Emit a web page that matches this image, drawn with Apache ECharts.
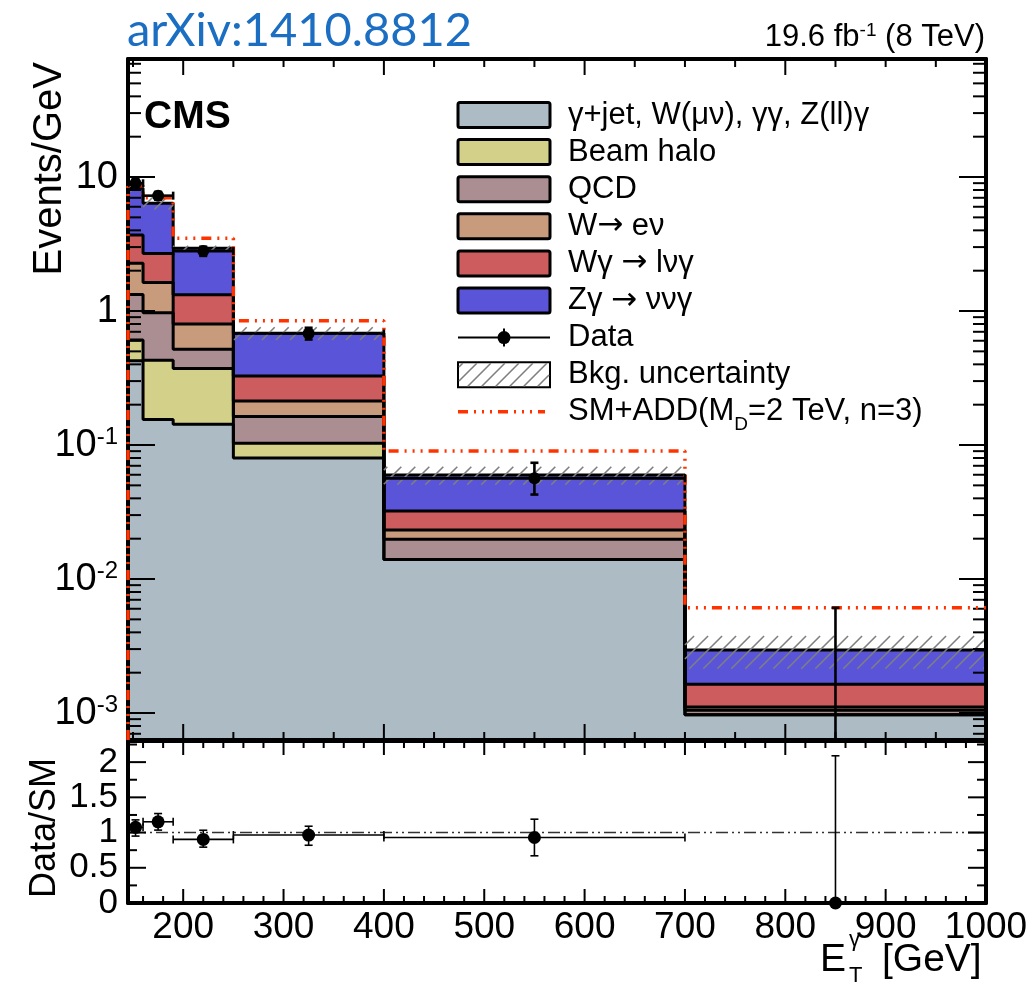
<!DOCTYPE html>
<html><head><meta charset="utf-8">
<script src="https://cdn.jsdelivr.net/npm/echarts@6/dist/echarts.min.js"></script>
<style>html,body{margin:0;padding:0;background:#fff}#c{width:1031px;height:987px}</style>
</head><body><div id="c"></div>
<script>
// ---------------- data ----------------
const binEdges = [145, 160, 190, 250, 400, 700, 1000];           // E_T^gamma bin edges [GeV]
const gammaJetEtc = [0.426, 0.155, 0.143, 0.080, 0.0140, 0.00097]; // Events/GeV per bin
const beamHalo    = [0.182, 0.275, 0.230, 0.023, 0.0, 0.0];
const qcd         = [0.722, 0.540, 0.145, 0.060, 0.0058, 0.00008];
const wToEnu      = [0.940, 0.660, 0.282, 0.050, 0.0034, 0.00006];
const wGamma      = [1.420, 1.060, 0.520, 0.114, 0.0090, 0.00053];
const zGamma      = [4.550, 3.670, 1.620, 0.355, 0.0275, 0.00131];
const bkgUnc      = [0.45, 0.64, 0.13, 0.074, 0.0092, 0.00081];
const smPlusAdd   = [8.6, 7.0, 3.49, 0.847, 0.0902, 0.00611];
const dataX       = [152.5, 175, 220, 325, 550, 850];
const dataY       = [8.98, 7.26, 2.80, 0.68, 0.0564, 0];
const dataErrLo   = [0.77, 0.49, 0.22, 0.067, 0.0137, 0];
const dataErrHi   = [0.77, 0.49, 0.22, 0.070, 0.0173, 0.0061];
const ratioVal    = [1.074, 1.153, 0.903, 0.965, 0.93, 0];
const ratioErrLo  = [0.124, 0.118, 0.11, 0.145, 0.26, 0];
const ratioErrHi  = [0.106, 0.117, 0.13, 0.125, 0.26, 2.09];
const legendLabels = ['γ+jet, W(μν), γγ, Z(ll)γ', 'Beam halo', 'QCD', 'W{a|→} eν', 'Wγ {a|→} lνγ', 'Zγ {a|→} ννγ', 'Data', 'Bkg. uncertainty', 'SM+ADD(M{sub|D}=2 TeV, n=3)'];
const xMajorTicksMain = [200, 400, 600, 800, 1000];
const xMinorTicksMain = [150, 250, 300, 350, 450, 500, 550, 650, 700, 750, 850, 900, 950];
const xMajorTicksRatio = [200, 300, 400, 500, 600, 700, 800, 900, 1000];
const xMinorTicksRatio = [160, 180, 220, 240, 260, 280, 320, 340, 360, 380, 420, 440, 460, 480, 520, 540, 560, 580, 620, 640, 660, 680, 720, 740, 760, 780, 820, 840, 860, 880, 920, 940, 960, 980];
const yMajorTicksMain = [0.001, 0.01, 0.1, 1, 10];
const yMinorTicksMain = [7e-4, 8e-4, 9e-4, 2e-3, 3e-3, 4e-3, 5e-3, 6e-3, 7e-3, 8e-3, 9e-3, 0.02, 0.03, 0.04, 0.05, 0.06, 0.07, 0.08, 0.09, 0.2, 0.3, 0.4, 0.5, 0.6, 0.7, 0.8, 0.9, 2, 3, 4, 5, 6, 7, 8, 9, 20, 30, 40, 50, 60, 70];
const yMajorTicksRatio = [0, 0.5, 1, 1.5, 2];
const yMinorTicksRatio = [0.25, 0.75, 1.25, 1.75, 2.25];

// ---------------- configuration ----------------
const FONT = '"Liberation Sans", Arial, Helvetica, sans-serif';
const X_MIN = 145, X_MAX = 1000;
const Y_MIN = 6.29e-4, Y_MAX = 76;
const R_MIN = 0, R_MAX = 2.3;
const colors = ['#adbbc5', '#d3d08a', '#aa8e92', '#c89b7c', '#cd5c5f', '#5954d8'];
const ADD_COLOR = '#ff3300';
const ADD_DASH = [10, 6, 2, 6, 2, 6, 2, 6];

const layers = [gammaJetEtc, beamHalo, qcd, wToEnu, wGamma, zGamma];
const cum = [];
let run = gammaJetEtc.map(() => 0);
layers.forEach(vals => {
  const lo = run.slice();
  run = run.map((v, i) => v + vals[i]);
  cum.push({ lo: lo, hi: run.slice() });
});
const totalSM = run.slice();

function hatchLines(x0, y0, x1, y1, spacing, style) {
  const out = [];
  const cStart = Math.ceil((x0 + y0) / spacing) * spacing;
  for (let c = cStart; c <= x1 + y1; c += spacing) {
    const xa = Math.max(x0, c - y1), xb = Math.min(x1, c - y0);
    if (xb > xa) out.push({ type: 'line', shape: { x1: xa, y1: c - xa, x2: xb, y2: c - xb }, style: style });
  }
  return out;
}

const series = [];

// stacked fills
layers.forEach((vals, k) => {
  series.push({
    type: 'custom', xAxisIndex: 0, yAxisIndex: 0, z: 1, clip: true, silent: true,
    encode: { x: 0, y: 3 },
    data: vals.map((v, i) => [binEdges[i], binEdges[i + 1], cum[k].lo[i], cum[k].hi[i]]),
    renderItem: (params, api) => {
      const cs = params.coordSys;
      const x0 = api.value(0), x1 = api.value(1), lo = api.value(2), hi = api.value(3);
      if (!(hi > lo)) return { type: 'group', children: [] };
      const pA = api.coord([x0, hi]);
      const pB = api.coord([x1, hi]);
      const yBot = lo > 0 ? api.coord([x0, lo])[1] : cs.y + cs.height;
      return { type: 'rect', shape: { x: pA[0] - 0.6, y: pA[1], width: pB[0] - pA[0] + 1.2, height: yBot - pA[1] + 0.6 }, style: { fill: colors[k] } };
    }
  });
});
// stacked outlines (step lines)
layers.forEach((vals, k) => {
  const d = cum[k].hi.map((v, i) => [binEdges[i], v]);
  d.push([binEdges[binEdges.length - 1], cum[k].hi[cum[k].hi.length - 1]]);
  series.push({
    type: 'line', xAxisIndex: 0, yAxisIndex: 0, step: 'end', symbol: 'none', z: 2, silent: true,
    lineStyle: { color: '#000', width: 3 }, data: d
  });
});
// background uncertainty hatch
series.push({
  type: 'custom', xAxisIndex: 0, yAxisIndex: 0, z: 3, clip: true, silent: true,
  encode: { x: 0, y: 3 },
  data: totalSM.map((t, i) => [binEdges[i], binEdges[i + 1], t - bkgUnc[i], t + bkgUnc[i]]),
  renderItem: (params, api) => {
    const pA = api.coord([api.value(0), api.value(3)]);
    const pB = api.coord([api.value(1), api.value(2)]);
    return { type: 'group', children: hatchLines(pA[0], pA[1], pB[0], pB[1], 14, { stroke: '#7f7f7f', lineWidth: 1.6 }) };
  }
});
// SM + ADD signal line
(function () {
  const d = [[binEdges[0], Y_MIN]];
  smPlusAdd.forEach((v, i) => d.push([binEdges[i], v]));
  d.push([binEdges[binEdges.length - 1], smPlusAdd[smPlusAdd.length - 1]]);
  series.push({
    type: 'line', xAxisIndex: 0, yAxisIndex: 0, step: 'end', symbol: 'none', z: 6, silent: true,
    lineStyle: { color: ADD_COLOR, width: 3.5, type: ADD_DASH }, data: d
  });
})();

// error bars
function errorBarSeries(xi, yi, vals, errLo, errHi, lw, cap, clip, logAxis) {
  return {
    type: 'custom', xAxisIndex: xi, yAxisIndex: yi, z: 7, clip: clip, silent: true,
    encode: { x: 0, y: 1 },
    data: dataX.map((x, i) => [x, vals[i], binEdges[i], binEdges[i + 1], errLo[i], errHi[i]]),
    renderItem: (params, api) => {
      const cs = params.coordSys;
      const x = api.value(0), y = api.value(1), xl = api.value(2), xh = api.value(3), el = api.value(4), eh = api.value(5);
      const bottom = cs.y + cs.height;
      const yc = (v) => (logAxis && v <= 0) ? bottom : api.coord([x, v])[1];
      const px = api.coord([x, logAxis ? 1 : 0])[0];
      const st = { stroke: '#000', lineWidth: lw };
      const ch = [];
      const yTop = yc(y + eh), yLow = yc(y - el), yMid = yc(y);
      if (eh > 0 || el > 0) {
        ch.push({ type: 'line', shape: { x1: px, y1: yLow, x2: px, y2: yTop }, style: st });
        if (eh > 0) ch.push({ type: 'line', shape: { x1: px - cap, y1: yTop, x2: px + cap, y2: yTop }, style: st });
        if (el > 0 && !(logAxis && y - el <= 0)) ch.push({ type: 'line', shape: { x1: px - cap, y1: yLow, x2: px + cap, y2: yLow }, style: st });
      }
      if (y > 0) {
        const pl = api.coord([xl, logAxis ? 1 : 0])[0], ph = api.coord([xh, logAxis ? 1 : 0])[0];
        ch.push({ type: 'line', shape: { x1: pl, y1: yMid, x2: ph, y2: yMid }, style: st });
        ch.push({ type: 'line', shape: { x1: pl, y1: yMid - cap, x2: pl, y2: yMid + cap }, style: st });
        ch.push({ type: 'line', shape: { x1: ph, y1: yMid - cap, x2: ph, y2: yMid + cap }, style: st });
      }
      return { type: 'group', children: ch };
    }
  };
}
series.push(errorBarSeries(0, 0, dataY, dataErrLo, dataErrHi, 2.6, 4, true, true));
series.push({
  type: 'scatter', xAxisIndex: 0, yAxisIndex: 0, z: 8, symbol: 'circle', symbolSize: 12, silent: true,
  itemStyle: { color: '#000', opacity: 1 },
  data: dataX.map((x, i) => [x, dataY[i]]).filter(p => p[1] > 0)
});
// ratio panel
series.push({
  type: 'line', xAxisIndex: 2, yAxisIndex: 2, symbol: 'none', z: 2, silent: true,
  lineStyle: { color: '#333', width: 1.5, type: [12, 4, 2, 4, 2, 4] },
  data: [[X_MIN, 1], [X_MAX, 1]]
});
series.push(errorBarSeries(2, 2, ratioVal, ratioErrLo, ratioErrHi, 1.6, 4, false, false));
series.push({
  type: 'scatter', xAxisIndex: 2, yAxisIndex: 2, z: 8, symbol: 'circle', symbolSize: 13, silent: true, clip: false,
  itemStyle: { color: '#000', opacity: 1 },
  data: dataX.map((x, i) => [x, ratioVal[i]])
});

// ticks (inside, on all four sides)
function tickSeries(xi, yi, xMaj, xMin, yMaj, yMin, lens, yAny) {
  return {
    type: 'custom', xAxisIndex: xi, yAxisIndex: yi, z: 5, clip: false, silent: true,
    data: [[X_MIN + 1, yAny]],
    renderItem: (params, api) => {
      const cs = params.coordSys;
      const st = { stroke: '#000', lineWidth: 2 };
      const ch = [];
      const top = cs.y, bot = cs.y + cs.height, left = cs.x, right = cs.x + cs.width;
      const addX = (v, L) => {
        const px = api.coord([v, yAny])[0];
        ch.push({ type: 'line', shape: { x1: px, y1: bot, x2: px, y2: bot - L }, style: st });
        ch.push({ type: 'line', shape: { x1: px, y1: top, x2: px, y2: top + L }, style: st });
      };
      const addY = (v, L) => {
        const py = api.coord([X_MIN + 1, v])[1];
        ch.push({ type: 'line', shape: { x1: left, y1: py, x2: left + L, y2: py }, style: st });
        ch.push({ type: 'line', shape: { x1: right, y1: py, x2: right - L, y2: py }, style: st });
      };
      xMaj.forEach(v => addX(v, lens[0]));
      xMin.forEach(v => addX(v, lens[1]));
      yMaj.forEach(v => addY(v, lens[2]));
      yMin.forEach(v => addY(v, lens[3]));
      return { type: 'group', children: ch };
    }
  };
}
series.push(tickSeries(0, 0, xMajorTicksMain, xMinorTicksMain, yMajorTicksMain, yMinorTicksMain, [16, 8, 27, 13], 1));
series.push(tickSeries(2, 2, xMajorTicksRatio, xMinorTicksRatio, yMajorTicksRatio, yMinorTicksRatio, [14, 7, 18, 9], 1));

// axes
const frameLine = { show: true, onZero: false, lineStyle: { color: '#000', width: 4 } };
function xAx(grid, pos, labels) {
  return {
    type: 'value', gridIndex: grid, position: pos, min: X_MIN, max: X_MAX, splitNumber: 9, z: 4,
    axisLine: frameLine, axisTick: { show: false }, splitLine: { show: false },
    axisLabel: labels ? { show: true, fontSize: 37, fontFamily: FONT, color: '#000', margin: 6, showMinLabel: false, showMaxLabel: true,
      formatter: v => String(Math.round(v)) } : { show: false }
  };
}
const supRich = {
  b: { fontSize: 38, fontFamily: FONT, color: '#000', lineHeight: 40 },
  s: { fontSize: 24, fontFamily: FONT, color: '#000', verticalAlign: 'top', lineHeight: 24 }
};
const option = {
  animation: false,
  backgroundColor: '#fff',
  grid: [
    { left: 128, right: 45, top: 59, height: 681 },
    { left: 128, right: 45, top: 741, height: 162 }
  ],
  xAxis: [xAx(0, 'bottom', false), xAx(0, 'top', false), xAx(1, 'bottom', true), xAx(1, 'top', false)],
  yAxis: [
    {
      type: 'log', gridIndex: 0, position: 'left', min: Y_MIN, max: Y_MAX, z: 4,
      axisLine: frameLine, axisTick: { show: false }, splitLine: { show: false }, minorTick: { show: false },
      axisLabel: {
        margin: 10, showMinLabel: false, showMaxLabel: false, interval: 0,
        formatter: v => { const e = Math.round(Math.log10(v)); return e === 1 ? '{b|10}' : (e === 0 ? '{b|1}' : '{b|10}{s|' + e + '}'); },
        rich: supRich
      }
    },
    { type: 'log', gridIndex: 0, position: 'right', min: Y_MIN, max: Y_MAX, z: 4, axisLine: frameLine, axisTick: { show: false }, splitLine: { show: false }, axisLabel: { show: false } },
    {
      type: 'value', gridIndex: 1, position: 'left', min: R_MIN, max: R_MAX, interval: 0.5, z: 4,
      axisLine: frameLine, axisTick: { show: false }, splitLine: { show: false },
      axisLabel: { fontSize: 35, fontFamily: FONT, color: '#000', margin: 10, interval: 0, showMinLabel: true, showMaxLabel: false, hideOverlap: false,
        formatter: v => String(v) }
    },
    { type: 'value', gridIndex: 1, position: 'right', min: R_MIN, max: R_MAX, interval: 0.5, z: 4, axisLine: frameLine, axisTick: { show: false }, splitLine: { show: false }, axisLabel: { show: false } }
  ],
  series: series,
  graphic: []
};

// texts and legend
const G = option.graphic;
G.push({ type: 'text', x: 127, y: 31, z: 20, style: { text: 'arXiv:1410.8812', fontSize: 47, fontFamily: 'Lato, "Open Sans", sans-serif', fill: '#1b6ec2', align: 'left', verticalAlign: 'middle' } });
G.push({ type: 'text', x: 985, y: 37, z: 20, style: { text: '19.6 fb{s|-1} (8 TeV)', fontSize: 31, fontFamily: FONT, fill: '#000', align: 'right', verticalAlign: 'middle',
  rich: { s: { fontSize: 19, fontFamily: FONT, fill: '#000', verticalAlign: 'top', lineHeight: 20 } } } });
G.push({ type: 'text', x: 144, y: 117, z: 20, style: { text: 'CMS', fontSize: 39, fontWeight: 'bold', fontFamily: FONT, fill: '#000', align: 'left', verticalAlign: 'middle' } });
G.push({ type: 'text', x: 50, y: 62, rotation: Math.PI / 2, z: 20, style: { text: 'Events/GeV', fontSize: 40, fontFamily: FONT, fill: '#000', align: 'right', verticalAlign: 'middle' } });
G.push({ type: 'text', x: 45, y: 758, rotation: Math.PI / 2, z: 20, style: { text: 'Data/SM', fontSize: 36, fontFamily: FONT, fill: '#000', align: 'right', verticalAlign: 'middle' } });
G.push({ type: 'text', x: 820, y: 980, z: 20, style: { text: 'E', fontSize: 39, fontFamily: FONT, fill: '#000', align: 'left', verticalAlign: 'bottom' } });
G.push({ type: 'text', x: 849, y: 987, z: 20, style: { text: 'T', fontSize: 22, fontFamily: FONT, fill: '#000', align: 'left', verticalAlign: 'bottom' } });
G.push({ type: 'text', x: 849, y: 940, z: 20, style: { text: 'γ', fontSize: 22, fontFamily: FONT, fill: '#000', align: 'left', verticalAlign: 'middle' } });
G.push({ type: 'text', x: 882, y: 980, z: 20, style: { text: '[GeV]', fontSize: 39, fontFamily: FONT, fill: '#000', align: 'left', verticalAlign: 'bottom' } });

const LEG_X0 = 458, LEG_X1 = 550, LEG_TX = 568, LEG_Y0 = 115, LEG_DY = 37.1, BOX_H = 25;
legendLabels.forEach((lab, i) => {
  const yc = LEG_Y0 + i * LEG_DY;
  if (i < 6) {
    G.push({ type: 'rect', z: 20, shape: { x: LEG_X0, y: yc - BOX_H / 2, width: LEG_X1 - LEG_X0, height: BOX_H, r: 2 }, style: { fill: colors[i], stroke: '#000', lineWidth: 3 } });
  } else if (i === 6) {
    G.push({ type: 'line', z: 20, shape: { x1: LEG_X0, y1: yc, x2: LEG_X1, y2: yc }, style: { stroke: '#000', lineWidth: 2 } });
    G.push({ type: 'line', z: 20, shape: { x1: 504, y1: yc - 9, x2: 504, y2: yc + 9 }, style: { stroke: '#000', lineWidth: 2 } });
    G.push({ type: 'circle', z: 21, shape: { cx: 504, cy: yc, r: 6.5 }, style: { fill: '#000' } });
  } else if (i === 7) {
    G.push({ type: 'rect', z: 20, shape: { x: LEG_X0, y: yc - BOX_H / 2, width: LEG_X1 - LEG_X0, height: BOX_H }, style: { fill: '#fff', stroke: '#000', lineWidth: 2 } });
    hatchLines(LEG_X0 + 1, yc - BOX_H / 2 + 1, LEG_X1 - 1, yc + BOX_H / 2 - 1, 14, { stroke: '#7f7f7f', lineWidth: 1.6 }).forEach(l => { l.z = 21; G.push(l); });
  } else {
    G.push({ type: 'line', z: 20, shape: { x1: LEG_X0, y1: yc, x2: LEG_X1 - 5, y2: yc }, style: { stroke: ADD_COLOR, lineWidth: 3.5, lineDash: ADD_DASH } });
  }
  G.push({ type: 'text', x: LEG_TX, y: yc, z: 20, style: { text: lab, fontSize: 31, fontFamily: FONT, fill: '#000', align: 'left', verticalAlign: 'middle',
    rich: {
      sub: { fontSize: 19, fontFamily: FONT, fill: '#000', verticalAlign: 'bottom', lineHeight: 44 },
      a: { fontSize: 31, fontFamily: '"DejaVu Sans", sans-serif', fill: '#000' }
    } } });
});

const chart = echarts.init(document.getElementById('c'), null, { renderer: 'canvas' });
chart.setOption(option);
</script>
</body></html>
